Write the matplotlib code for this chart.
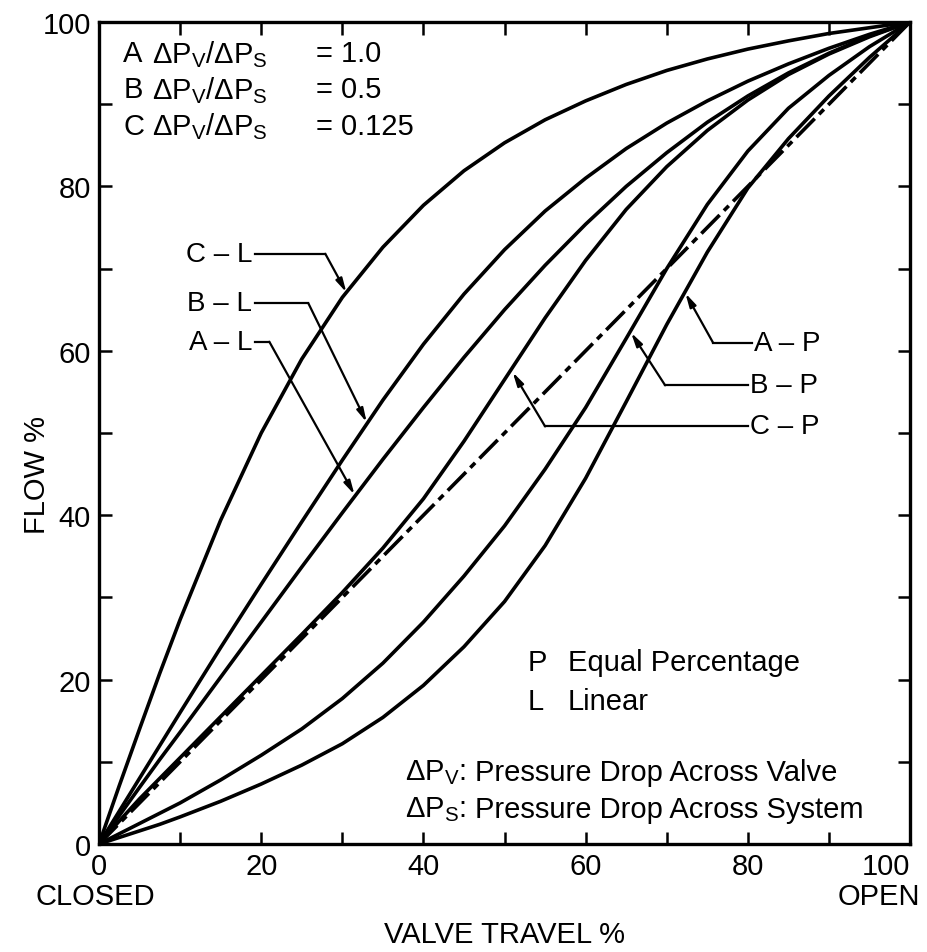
import numpy as np
import matplotlib.pyplot as plt

plt.rcParams['font.family'] = ['Liberation Sans', 'DejaVu Sans']
plt.rcParams['mathtext.fontset'] = 'custom'
plt.rcParams['mathtext.rm'] = 'Liberation Sans'

# valve travel (%) grid the curves were read at
travel = [0, 2.5, 5, 7.5, 10, 15, 20, 25, 30, 35, 40, 45, 50, 55, 60, 65, 70, 75, 80, 85, 90, 95, 100]

# installed flow (%) for linear trim
flow_CL = [0, 7.1, 14.0, 20.8, 27.3, 39.4, 50.0, 59.0, 66.5, 72.6, 77.7, 81.9, 85.3, 88.1, 90.4, 92.4, 94.1, 95.5, 96.7, 97.7, 98.6, 99.3, 100]
flow_BL = [0, 4.0, 8.0, 12.0, 16.0, 23.9, 31.6, 39.2, 46.7, 54.0, 60.8, 66.9, 72.3, 77.0, 81.0, 84.6, 87.7, 90.4, 92.8, 94.9, 96.8, 98.5, 100]
flow_AL = [0, 3.45, 6.9, 10.3, 13.6, 20.3, 27.0, 33.7, 40.3, 46.8, 53.1, 59.2, 65.0, 70.4, 75.4, 80.0, 84.1, 87.8, 91.0, 93.8, 96.2, 98.3, 100]

# installed flow (%) for equal percentage trim
flow_CP = [0, 2.8, 5.5, 8.0, 10.5, 15.5, 20.5, 25.5, 30.6, 36.0, 42.0, 49.0, 56.5, 64.0, 71.0, 77.2, 82.4, 86.8, 90.5, 93.6, 96.1, 98.2, 100]
flow_BP = [0, 1.25, 2.5, 3.75, 5.0, 7.8, 10.8, 14.0, 17.7, 22.0, 27.0, 32.6, 38.7, 45.6, 53.1, 61.5, 70.0, 77.8, 84.3, 89.5, 93.5, 97.0, 100]
flow_AP = [0, 0.8, 1.6, 2.4, 3.3, 5.2, 7.3, 9.6, 12.2, 15.4, 19.3, 24.0, 29.5, 36.3, 44.5, 53.8, 63.2, 72.0, 79.8, 85.8, 91.0, 95.7, 100]

# inherent linear reference line
ref_x = [0, 100]
ref_y = [0, 100]

fig = plt.figure(figsize=(9.28, 9.53), dpi=100)
ax = fig.add_axes([0.1067, 0.1133, 0.874, 0.8626])

lw = 2.6
for y in [flow_CL, flow_BL, flow_AL, flow_CP, flow_BP, flow_AP]:
    ax.plot(travel, y, color='black', lw=lw, solid_capstyle='round', solid_joinstyle='round')
ax.plot(ref_x, ref_y, color='black', lw=lw, linestyle=(0, (7.2, 1.7, 1.9, 1.7)))

ax.set_xlim(0, 100)
ax.set_ylim(0, 100)
ticks = list(range(0, 101, 10))
ax.set_xticks(ticks)
ax.set_yticks(ticks)
ax.set_xticklabels([str(t) if t % 20 == 0 else '' for t in ticks])
ax.set_yticklabels([str(t) if t % 20 == 0 else '' for t in ticks])
ax.tick_params(direction='in', length=9, width=1.8, top=True, right=True,
               labelsize=21, pad=6)
ax.get_xticklabels()[-1].set_horizontalalignment('right')
for s in ax.spines.values():
    s.set_linewidth(2.4)

ax.text(-0.4, -6.3, 'CLOSED', ha='center', va='center', fontsize=21, clip_on=False)
ax.text(101.2, -6.3, 'OPEN', ha='right', va='center', fontsize=21, clip_on=False)
ax.text(50, -11, 'VALVE TRAVEL %', ha='center', va='center', fontsize=21, clip_on=False)
ax.text(-7.6, 45, 'FLOW %', ha='center', va='center', rotation=90, fontsize=21, clip_on=False)

# ratio legend, top left
ratio_rows = [('A', '1.0'), ('B', '0.5'), ('C', '0.125')]
for i, (k, v) in enumerate(ratio_rows):
    yy = 96.2 - i * 4.4
    ax.text(3.0, yy, k, ha='left', va='center', fontsize=21)
    ax.text(6.5, yy, r'$\mathregular{\Delta P_V / \Delta P_S}$', ha='left', va='center', fontsize=21)
    ax.text(26.8, yy, '= ' + v, ha='left', va='center', fontsize=21)

# key, bottom right
ax.text(52.9, 22.2, 'P', ha='left', va='center', fontsize=21)
ax.text(57.8, 22.2, 'Equal Percentage', ha='left', va='center', fontsize=21)
ax.text(52.9, 17.4, 'L', ha='left', va='center', fontsize=21)
ax.text(57.8, 17.4, 'Linear', ha='left', va='center', fontsize=21)
ax.text(37.7, 8.8, r'$\mathregular{\Delta P_V}$:', ha='left', va='center', fontsize=21)
ax.text(46.4, 8.8, 'Pressure Drop Across Valve', ha='left', va='center', fontsize=21)
ax.text(37.7, 4.3, r'$\mathregular{\Delta P_S}$:', ha='left', va='center', fontsize=21)
ax.text(46.4, 4.3, 'Pressure Drop Across System', ha='left', va='center', fontsize=21)

# leader lines with arrows
leaders = [
    ('C – L', 'right', [(19.2, 71.8), (27.9, 71.8), (30.5, 67.1)]),
    ('B – L', 'right', [(19.2, 65.8), (25.8, 65.8), (33.0, 51.3)]),
    ('A – L', 'right', [(19.2, 61.1), (21.0, 61.1), (31.5, 42.5)]),
    ('A – P', 'left', [(80.5, 61.0), (75.7, 61.0), (72.3, 67.0)]),
    ('B – P', 'left', [(80.0, 55.8), (69.8, 55.8), (65.6, 62.2)]),
    ('C – P', 'left', [(80.0, 50.8), (55.0, 50.8), (51.0, 57.4)]),
]
for name, side, pts in leaders:
    xs = [p[0] for p in pts]
    ys = [p[1] for p in pts]
    ax.plot(xs[:2], ys[:2], color='black', lw=1.6)
    ax.annotate('', xy=pts[2], xytext=pts[1],
                arrowprops=dict(arrowstyle='-|>,head_length=0.8,head_width=0.2',
                                color='black', lw=1.6, shrinkA=0, shrinkB=0))
    if side == 'right':
        ax.text(xs[0] - 0.3, ys[0], name, ha='right', va='center', fontsize=20)
    else:
        ax.text(xs[0] + 0.3, ys[0], name, ha='left', va='center', fontsize=20)

fig.savefig('out.png', dpi=100, facecolor='white')
